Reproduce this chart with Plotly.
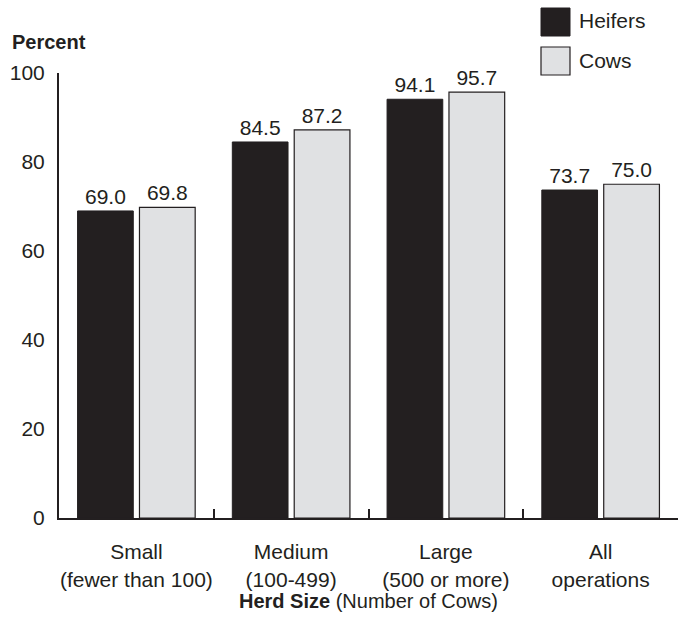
import plotly.graph_objects as go

categories = ["Small<br>(fewer than 100)", "Medium<br>(100-499)", "Large<br>(500 or more)", "All<br>operations"]
heifers = [69.0, 84.5, 94.1, 73.7]
cows = [69.8, 87.2, 95.7, 75.0]
series_names = ["Heifers", "Cows"]
y_ticks = [0, 20, 40, 60, 80, 100]

FONT = "Liberation Sans, Arial, sans-serif"
DARK = "#231f20"
LIGHT = "#e0e1e3"
FS = 21

fig = go.Figure()
fig.add_trace(go.Bar(
    x=categories, y=heifers, name=series_names[0],
    marker=dict(color=DARK, line=dict(color=DARK, width=1)),
    text=[f"{v:.1f}" for v in heifers], textposition="outside",
    textfont=dict(size=FS, color=DARK, family=FONT), cliponaxis=False,
))
fig.add_trace(go.Bar(
    x=categories, y=cows, name=series_names[1],
    marker=dict(color=LIGHT, line=dict(color=DARK, width=1.2)),
    text=[f"{v:.1f}" for v in cows], textposition="outside",
    textfont=dict(size=FS, color=DARK, family=FONT), cliponaxis=False,
))

fig.update_layout(
    width=686, height=624,
    margin=dict(l=59, r=8, t=73, b=106),
    paper_bgcolor="white", plot_bgcolor="white",
    barmode="group", bargap=0.2, bargroupgap=0.1,
    showlegend=False,
    font=dict(family=FONT, size=FS, color=DARK),
    xaxis=dict(
        showline=True, linecolor=DARK, linewidth=2,
        ticks="inside", tickson="boundaries", ticklen=9, tickcolor=DARK, tickwidth=2,
        tickfont=dict(size=FS, color=DARK), ticklabelstandoff=14,
        tickangle=0, automargin=False, showgrid=False,
    ),
    yaxis=dict(
        range=[0, 100], tickvals=y_ticks, showline=True, linecolor=DARK, linewidth=2,
        ticks="", showgrid=False, zeroline=False, automargin=False,
        tickfont=dict(size=FS, color=DARK), ticklabelstandoff=8,
    ),
)

# Legend drawn manually (large square swatches)
fig.add_shape(type="rect", xref="paper", yref="paper",
              x0=(541 - 59) / 619, x1=(570 - 59) / 619,
              y0=(518 - 36) / 445, y1=(518 - 8) / 445,
              fillcolor=DARK, line=dict(color=DARK, width=1))
fig.add_shape(type="rect", xref="paper", yref="paper",
              x0=(541 - 59) / 619, x1=(570 - 59) / 619,
              y0=(518 - 75) / 445, y1=(518 - 47) / 445,
              fillcolor=LIGHT, line=dict(color=DARK, width=1.2))
fig.add_annotation(xref="paper", yref="paper", x=(577 - 59) / 619, y=(518 - 21) / 445,
                   text=series_names[0], showarrow=False, xanchor="left", yanchor="middle",
                   font=dict(size=FS, color=DARK))
fig.add_annotation(xref="paper", yref="paper", x=(577 - 59) / 619, y=(518 - 61) / 445,
                   text=series_names[1], showarrow=False, xanchor="left", yanchor="middle",
                   font=dict(size=FS, color=DARK))

fig.add_annotation(xref="paper", yref="paper", x=(10 - 59) / 619, y=(518 - 42) / 445,
                   text="<b>Percent</b>", showarrow=False, xanchor="left", yanchor="middle",
                   font=dict(size=20, color=DARK))
fig.add_annotation(xref="paper", yref="paper", x=(368 - 59) / 619, y=(518 - 601) / 445,
                   text="<b>Herd Size</b> (Number of Cows)", showarrow=False,
                   xanchor="center", yanchor="middle", font=dict(size=20, color=DARK))

fig.write_html("out.html", config={"displayModeBar": False},
               post_script="document.body.style.margin='0';")
